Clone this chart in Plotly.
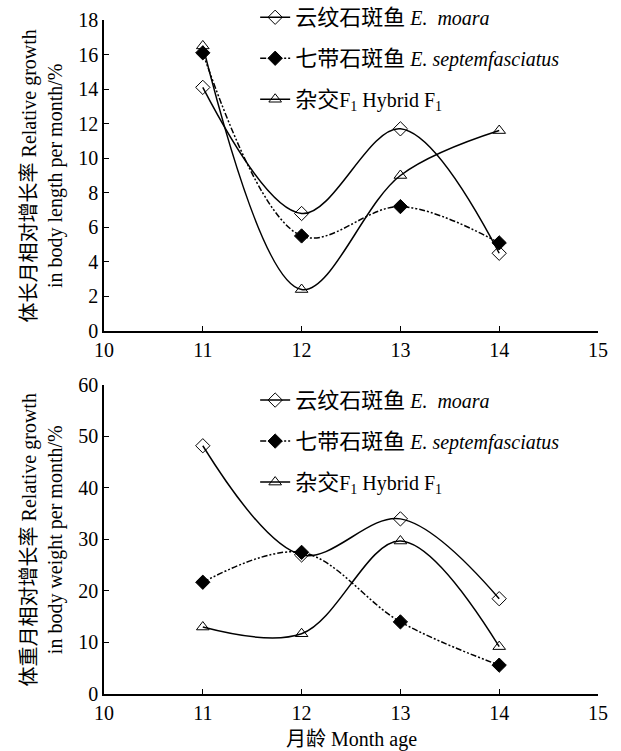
import plotly.graph_objects as go
from plotly.subplots import make_subplots

months = [11, 12, 13, 14]
# Top: relative growth in body length per month (%)
len_moara = [14.1, 6.8, 11.7, 4.5]
len_septem = [16.1, 5.5, 7.2, 5.1]
len_hybrid = [16.5, 2.4, 9.0, 11.6]
# Bottom: relative growth in body weight per month (%)
wt_moara = [48.2, 27.0, 34.0, 18.5]
wt_septem = [21.7, 27.5, 14.0, 5.6]
wt_hybrid = [13.0, 11.7, 29.7, 9.2]

CJK = '<span style="font-size:22px">{}</span>'
names = [CJK.format("云纹石斑鱼") + " <i>E.  moara</i>",
         CJK.format("七带石斑鱼") + " <i>E. septemfasciatus</i>",
         CJK.format("杂交") + "F<sub>1</sub> Hybrid F<sub>1</sub>"]
x_ticks = [10, 11, 12, 13, 14, 15]

FONT = "Liberation Serif, Times New Roman, Noto Sans CJK SC"

fig = make_subplots(rows=2, cols=1)

styles = [
    dict(symbol="diamond-open", dash="solid"),
    dict(symbol="diamond", dash="6px,2px,2px,2px,2px,2px"),
    dict(symbol="triangle-up-open", dash="solid"),
]

for row, series, legend in [(1, [len_moara, len_septem, len_hybrid], "legend"),
                            (2, [wt_moara, wt_septem, wt_hybrid], "legend2")]:
    for i, (vals, st) in enumerate(zip(series, styles)):
        fig.add_trace(go.Scatter(
            x=months, y=vals, name=names[i], mode="lines+markers",
            line=dict(color="black", width=1.5, shape="spline", smoothing=1, dash=st["dash"]),
            marker=dict(symbol=st["symbol"], size=11, color="black",
                        line=dict(color="black", width=1)),
            legend=legend, legendgroup=f"{legend}{i}",
        ), row=row, col=1)

axis_common = dict(showline=True, linecolor="black", linewidth=1.5, ticks="inside",
                   ticklen=5, tickcolor="black", tickwidth=1.2, showgrid=False,
                   zeroline=False, tickfont=dict(family=FONT, size=20, color="black"))

fig.update_xaxes(range=[10, 15], tickvals=x_ticks, ticktext=[str(t) for t in x_ticks], **axis_common)
fig.update_yaxes(**axis_common)
fig.update_yaxes(range=[0, 18], dtick=2, row=1, col=1)
fig.update_yaxes(range=[0, 60], dtick=10, row=2, col=1)

fig.update_layout(
    xaxis=dict(domain=[0, 1]), xaxis2=dict(domain=[0, 1]),
    yaxis=dict(domain=[0.5386, 1.0]), yaxis2=dict(domain=[0.0, 0.4585]),
)

leg_common = dict(font=dict(family=FONT, size=20, color="black"), bgcolor="rgba(0,0,0,0)",
                  tracegroupgap=12, xanchor="left", yanchor="top", itemwidth=30)
fig.update_layout(
    legend=dict(x=0.306, y=1.033, **leg_common),
    legend2=dict(x=0.306, y=0.465, **leg_common),
)

fig.add_annotation(text="体长月相对增长率 Relative growth<br>in body length per month/%",
                   xref="paper", yref="paper", x=-0.124, y=0.769, textangle=-90,
                   xanchor="center", yanchor="middle",
                   showarrow=False, font=dict(family=FONT, size=20, color="black"))
fig.add_annotation(text="体重月相对增长率 Relative growth<br>in body weight per month/%",
                   xref="paper", yref="paper", x=-0.124, y=0.229, textangle=-90,
                   xanchor="center", yanchor="middle",
                   showarrow=False, font=dict(family=FONT, size=20, color="black"))
fig.add_annotation(text="月龄 Month age", xref="paper", yref="paper", x=0.5, y=-0.068,
                   xanchor="center", yanchor="middle", showarrow=False,
                   font=dict(family=FONT, size=20, color="black"))

fig.update_layout(width=621, height=751,
                  margin=dict(l=104, r=23, t=20, b=57, autoexpand=False),
                  plot_bgcolor="white", paper_bgcolor="white", showlegend=True)

fig.write_html("out.html", config={"displayModeBar": False})
with open("out.html", encoding="utf-8") as f:
    html = f.read()
html = html.replace("<body>", '<body style="margin:0;padding:0;overflow:hidden">', 1)
with open("out.html", "w", encoding="utf-8") as f:
    f.write(html)
